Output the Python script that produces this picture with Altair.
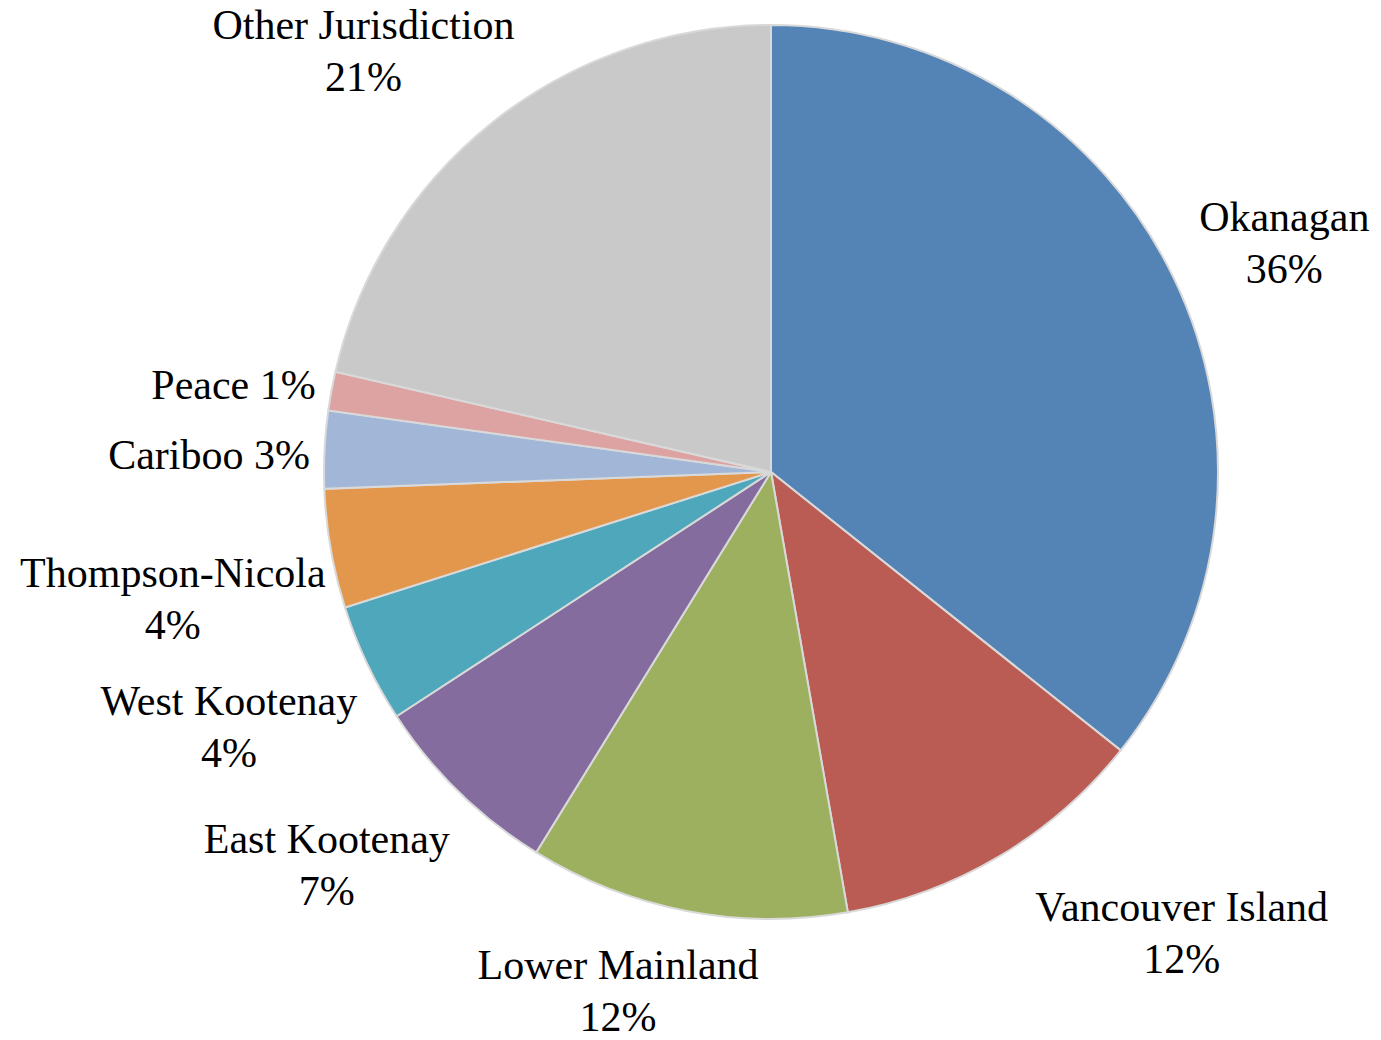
import math
import altair as alt
import pandas as pd

# ---- data ----
names = ["Okanagan", "Vancouver Island", "Lower Mainland", "East Kootenay",
         "West Kootenay", "Thompson-Nicola", "Cariboo", "Peace", "Other Jurisdiction"]
values = [35.7, 11.55, 11.55, 7.0, 4.3, 4.3, 2.8, 1.4, 21.4]
single_line = ["Cariboo", "Peace"]
colors = ["#5484B6", "#BA5C54", "#9CB05F", "#846C9F", "#4EA7BB",
          "#E3974D", "#A2B7D8", "#DCA3A2", "#C9C9C9"]

# ---- layout ----
W, H = 1100, 900
R = 447
FONT_SIZE = 42
LINE_H = 52
CHAR_W = 19      # rough average glyph width at this size
GAP_R = 477      # radius of label anchor points


def clamp(v, lo, hi):
    return max(lo, min(hi, v))


total = sum(values)
rows = []
cum = 0.0
for i, (n, v) in enumerate(zip(names, values)):
    pct = f"{round(v / total * 100):.0f}%"
    sep = " " if n in single_line else "\n"
    label = f"{n}{sep}{pct}"
    lines = label.split("\n")
    mid = (cum + v / 2) / total * 2 * math.pi
    cum += v
    s, c = math.sin(mid), math.cos(mid)
    w = max(len(t) for t in lines) * CHAR_W
    h = len(lines) * LINE_H
    # block centre, pushed outward from the anchor point on the ring
    fx = clamp(2.5 * s, -0.9, 1.1) * (1 - max(0.0, c - 0.5))
    ky = 1.6 if c > 0.18 else 2.5
    fy = clamp(ky * (c - 0.18), -1, 0.9)
    lx = GAP_R * s + (w / 2) * fx
    ly = GAP_R * c + (h / 2) * fy
    # first line position (multi-line text is laid out downward from it)
    ly += (len(lines) - 1) * LINE_H / 2
    rows.append({"idx": i, "name": n, "value": v, "label": label, "lx": lx, "ly": ly})

df = pd.DataFrame(rows)

pie = alt.Chart(df).mark_arc(radius=R, stroke="#D9D9D9", strokeWidth=2).encode(
    theta=alt.Theta("value:Q", stack=True),
    order=alt.Order("idx:Q"),
    color=alt.Color("name:N", scale=alt.Scale(domain=names, range=colors), legend=None),
)

labels = alt.Chart(df).mark_text(
    font="Liberation Serif", fontSize=FONT_SIZE, lineBreak="\n", lineHeight=LINE_H,
    align="center", baseline="middle", color="#000000",
).encode(
    x=alt.X("lx:Q", scale=alt.Scale(domain=[-W / 2, W / 2], nice=False, zero=False), axis=None),
    y=alt.Y("ly:Q", scale=alt.Scale(domain=[-H / 2, H / 2], nice=False, zero=False), axis=None),
    text="label:N",
)

chart = alt.layer(pie, labels).properties(
    width=W, height=H,
    autosize=alt.AutoSizeParams(type="none"),
    padding={"left": 213, "top": 14, "right": 52, "bottom": 114},
    background="white",
).configure_view(stroke=None)

chart.save("out.html", embed_options={"renderer": "svg", "actions": False})
